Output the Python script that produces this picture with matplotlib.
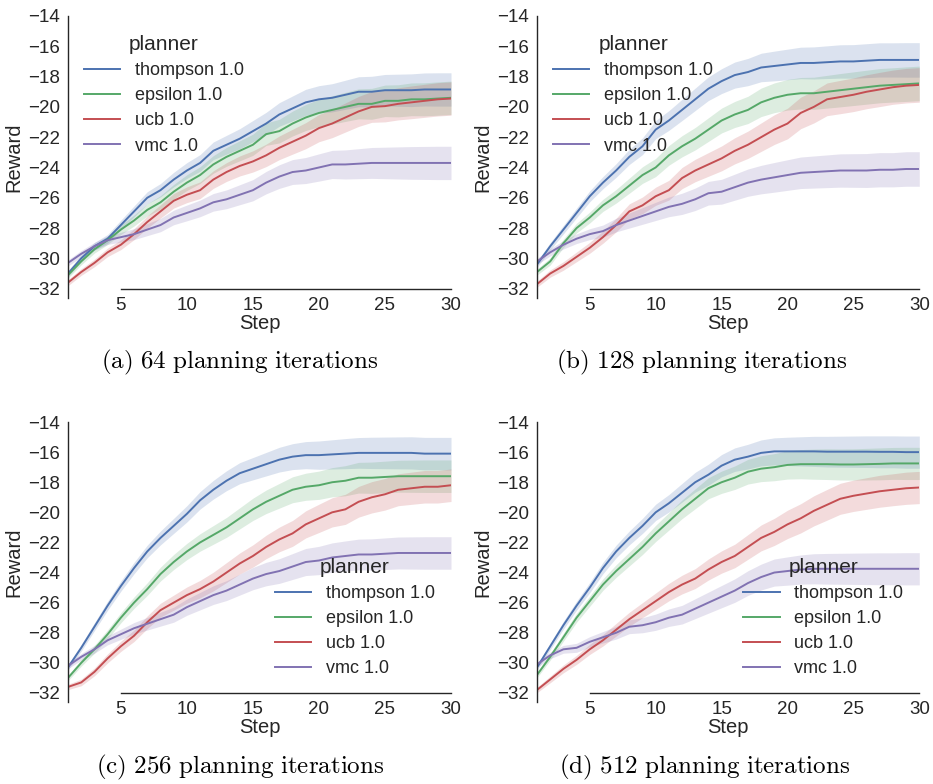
import matplotlib
matplotlib.use("Agg")
import matplotlib.pyplot as plt
import numpy as np

plt.rcParams["font.family"] = ["Liberation Sans", "DejaVu Sans"]
plt.rcParams["mathtext.fontset"] = "cm"

steps = list(range(1, 31))
planners = ["thompson 1.0", "epsilon 1.0", "ucb 1.0", "vmc 1.0"]
colors = ["#4C72B0", "#55A868", "#C44E52", "#8172B2"]
captions = ["(a) 64 planning iterations", "(b) 128 planning iterations",
            "(c) 256 planning iterations", "(d) 512 planning iterations"]

# (a) 64 planning iterations
thompson_64 = [-31.0, -30.0, -29.2, -28.7, -27.8, -26.9, -26.0, -25.5, -24.8, -24.2,
               -23.7, -22.9, -22.5, -22.1, -21.6, -21.1, -20.5, -20.1, -19.7, -19.5,
               -19.4, -19.2, -19.0, -19.0, -18.9, -18.9, -18.9, -18.85, -18.85, -18.85]
epsilon_64 = [-31.1, -30.2, -29.4, -28.8, -28.1, -27.5, -26.8, -26.3, -25.6, -25.0,
              -24.5, -23.8, -23.3, -22.9, -22.5, -21.8, -21.6, -21.1, -20.7, -20.4,
              -20.2, -20.0, -19.8, -19.8, -19.6, -19.6, -19.5, -19.5, -19.45, -19.4]
ucb_64 = [-31.6, -30.9, -30.3, -29.6, -29.1, -28.4, -27.6, -26.9, -26.2, -25.8,
          -25.5, -24.8, -24.3, -23.9, -23.6, -23.2, -22.7, -22.3, -21.9, -21.4,
          -21.1, -20.7, -20.3, -20.0, -19.95, -19.8, -19.7, -19.6, -19.5, -19.45]
vmc_64 = [-30.3, -29.7, -29.2, -28.8, -28.6, -28.4, -28.1, -27.8, -27.3, -27.0,
          -26.7, -26.3, -26.1, -25.8, -25.5, -25.0, -24.6, -24.3, -24.2, -24.0,
          -23.8, -23.8, -23.75, -23.7, -23.7, -23.7, -23.7, -23.7, -23.7, -23.7]

# (b) 128 planning iterations
thompson_128 = [-30.4, -29.2, -28.1, -27.0, -25.9, -25.0, -24.2, -23.3, -22.6, -21.5,
                -20.9, -20.2, -19.5, -18.8, -18.3, -17.9, -17.7, -17.4, -17.3, -17.2,
                -17.1, -17.1, -17.05, -17.0, -17.0, -16.95, -16.9, -16.9, -16.9, -16.9]
epsilon_128 = [-30.9, -30.2, -29.0, -28.0, -27.3, -26.5, -25.9, -25.2, -24.5, -24.0,
               -23.2, -22.6, -22.1, -21.5, -20.9, -20.5, -20.2, -19.7, -19.4, -19.2,
               -19.1, -19.1, -19.0, -18.9, -18.8, -18.7, -18.6, -18.55, -18.5, -18.45]
ucb_128 = [-31.7, -31.0, -30.5, -29.9, -29.3, -28.6, -27.8, -26.9, -26.5, -25.9,
           -25.5, -24.7, -24.2, -23.8, -23.4, -22.9, -22.5, -22.0, -21.5, -21.1,
           -20.4, -20.0, -19.5, -19.35, -19.2, -19.0, -18.85, -18.7, -18.6, -18.55]
vmc_128 = [-30.2, -29.6, -29.1, -28.7, -28.4, -28.2, -27.8, -27.5, -27.2, -26.9,
           -26.6, -26.4, -26.1, -25.7, -25.6, -25.3, -25.0, -24.8, -24.65, -24.5,
           -24.35, -24.3, -24.25, -24.2, -24.2, -24.2, -24.15, -24.15, -24.1, -24.1]

# (c) 256 planning iterations
thompson_256 = [-30.3, -29.0, -27.6, -26.2, -24.9, -23.7, -22.6, -21.7, -20.9, -20.1,
                -19.2, -18.5, -17.9, -17.4, -17.1, -16.8, -16.5, -16.3, -16.2, -16.2,
                -16.15, -16.1, -16.05, -16.05, -16.05, -16.05, -16.05, -16.1, -16.1, -16.1]
epsilon_256 = [-31.0, -30.0, -29.1, -28.1, -27.0, -26.0, -25.1, -24.1, -23.3, -22.6,
               -22.0, -21.5, -21.0, -20.4, -19.8, -19.3, -18.9, -18.5, -18.3, -18.2,
               -18.0, -17.9, -17.7, -17.7, -17.65, -17.6, -17.6, -17.6, -17.6, -17.6]
ucb_256 = [-31.6, -31.3, -30.6, -29.7, -28.9, -28.2, -27.3, -26.5, -26.0, -25.5,
           -25.1, -24.6, -24.0, -23.4, -22.9, -22.3, -21.8, -21.4, -20.8, -20.4,
           -20.0, -19.8, -19.3, -19.0, -18.8, -18.5, -18.4, -18.3, -18.3, -18.2]
vmc_256 = [-30.2, -29.6, -29.1, -28.5, -28.1, -27.7, -27.4, -27.1, -26.8, -26.3,
           -25.9, -25.5, -25.2, -24.8, -24.4, -24.1, -23.9, -23.6, -23.3, -23.2,
           -23.0, -22.9, -22.8, -22.8, -22.75, -22.7, -22.7, -22.7, -22.7, -22.7]

# (d) 512 planning iterations
thompson_512 = [-30.3, -28.9, -27.5, -26.2, -25.0, -23.7, -22.6, -21.7, -20.9, -20.0,
                -19.4, -18.7, -18.0, -17.5, -16.9, -16.5, -16.3, -16.05, -15.95, -15.95,
                -15.95, -15.95, -15.97, -15.97, -15.97, -15.97, -15.98, -15.98, -16.0, -16.0]
epsilon_512 = [-30.8, -29.6, -28.3, -27.0, -25.9, -24.8, -23.9, -23.1, -22.3, -21.4,
               -20.6, -19.8, -19.1, -18.4, -18.0, -17.7, -17.3, -17.1, -17.0, -16.85,
               -16.8, -16.8, -16.8, -16.82, -16.82, -16.8, -16.78, -16.75, -16.75, -16.75]
ucb_512 = [-31.8, -31.1, -30.4, -29.8, -29.1, -28.5, -27.8, -27.1, -26.5, -25.9,
           -25.3, -24.8, -24.4, -23.8, -23.3, -22.9, -22.3, -21.7, -21.3, -20.8,
           -20.4, -19.9, -19.5, -19.1, -18.9, -18.75, -18.6, -18.5, -18.4, -18.35]
vmc_512 = [-30.1, -29.5, -29.1, -29.0, -28.6, -28.3, -28.0, -27.6, -27.5, -27.3,
           -27.0, -26.8, -26.4, -26.0, -25.6, -25.2, -24.7, -24.3, -24.0, -23.9,
           -23.8, -23.75, -23.75, -23.75, -23.75, -23.75, -23.75, -23.75, -23.75, -23.75]

# half-width of the shaded confidence band, per step
band_64 = [0.20, 0.22, 0.25, 0.28, 0.32, 0.36, 0.40, 0.44, 0.48, 0.52,
           0.55, 0.58, 0.62, 0.66, 0.70, 0.74, 0.78, 0.82, 0.86, 0.90,
           0.93, 0.96, 0.99, 1.02, 1.04, 1.06, 1.08, 1.09, 1.10, 1.10]
band_128 = [0.20, 0.24, 0.28, 0.32, 0.36, 0.40, 0.45, 0.50, 0.55, 0.60,
            0.65, 0.70, 0.74, 0.78, 0.82, 0.86, 0.90, 0.94, 0.98, 1.01,
            1.04, 1.06, 1.08, 1.10, 1.11, 1.12, 1.13, 1.13, 1.14, 1.14]
band_256 = [0.18, 0.22, 0.26, 0.30, 0.34, 0.38, 0.42, 0.46, 0.50, 0.54,
            0.58, 0.62, 0.66, 0.70, 0.74, 0.78, 0.82, 0.86, 0.90, 0.94,
            0.97, 1.00, 1.02, 1.04, 1.05, 1.06, 1.07, 1.08, 1.08, 1.08]
band_512 = [0.18, 0.22, 0.26, 0.30, 0.34, 0.38, 0.42, 0.46, 0.50, 0.54,
            0.58, 0.62, 0.66, 0.70, 0.74, 0.78, 0.82, 0.86, 0.90, 0.94,
            0.97, 1.00, 1.02, 1.03, 1.04, 1.05, 1.06, 1.06, 1.07, 1.07]

panels = [
    ([thompson_64, epsilon_64, ucb_64, vmc_64], band_64),
    ([thompson_128, epsilon_128, ucb_128, vmc_128], band_128),
    ([thompson_256, epsilon_256, ucb_256, vmc_256], band_256),
    ([thompson_512, epsilon_512, ucb_512, vmc_512], band_512),
]

fig = plt.figure(figsize=(9.33, 7.84), dpi=100)
boxes = [
    [0.0729, 0.6202, 0.4105, 0.3594],
    [0.5756, 0.6202, 0.4097, 0.3594],
    [0.0729, 0.1046, 0.4105, 0.3571],
    [0.5756, 0.1046, 0.4097, 0.3571],
]
caption_pos = [(0.257, 0.538), (0.752, 0.538), (0.257, 0.021), (0.755, 0.021)]

for i, (series, band) in enumerate(panels):
    ax = fig.add_axes(boxes[i])
    x = np.array(steps)
    hw = np.array(band)
    for vals, name, c in zip(series, planners, colors):
        y = np.array(vals)
        ax.fill_between(x, y - hw, y + hw, color=c, alpha=0.2, linewidth=0)
        ax.plot(x, y, color=c, lw=1.4, label=name)

    ax.set_xlim(1, 30)
    ax.set_ylim(-32.6, -14)
    ax.set_xticks([5, 10, 15, 20, 25, 30])
    ax.set_yticks(range(-32, -13, 2))
    ax.set_yticklabels([f"\u2212{abs(v)}" for v in range(-32, -13, 2)])
    ax.tick_params(length=0, labelsize=13.5, colors="#262626", pad=6)
    for s in ["top", "right"]:
        ax.spines[s].set_visible(False)
    ax.spines["bottom"].set_position(("data", -32))
    ax.spines["bottom"].set_bounds(5, 30)
    ax.spines["left"].set_bounds(-32.6, -14)
    for s in ["bottom", "left"]:
        ax.spines[s].set_color("#262626")
        ax.spines[s].set_linewidth(1.0)
    ax.set_xlabel("Step", fontsize=14.5, color="#262626", labelpad=0)
    ax.set_ylabel("Reward", fontsize=14.5, color="#262626", labelpad=3)

    if i < 2:
        leg = ax.legend(title="planner", loc="upper left", bbox_to_anchor=(0.0, 0.99),
                        frameon=False, fontsize=13, title_fontsize=15, handlelength=2.0,
                        labelspacing=0.45)
    else:
        leg = ax.legend(title="planner", loc="lower right", bbox_to_anchor=(1.0, 0.03),
                        frameon=False, fontsize=13, title_fontsize=15, handlelength=2.0,
                        labelspacing=0.45)
    for t in leg.get_texts():
        t.set_color("#262626")
    leg.get_title().set_color("#262626")

    cx, cy = caption_pos[i]
    label = captions[i].replace(" ", r"\ ")
    fig.text(cx, cy, "$\\mathrm{" + label + "}$", fontsize=18, ha="center", va="center")

fig.savefig("out.png", dpi=100)
